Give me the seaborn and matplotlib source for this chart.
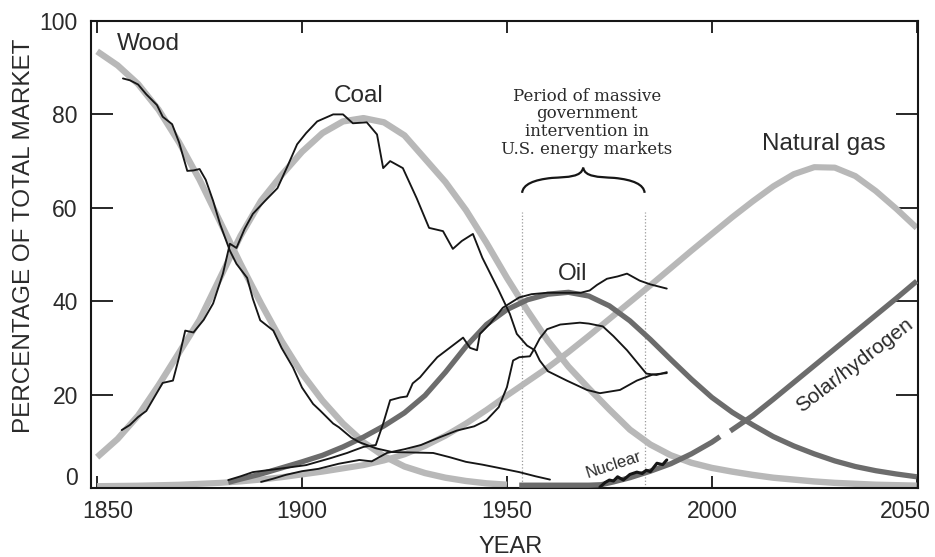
import numpy as np
import pandas as pd
import matplotlib
matplotlib.use("Agg")
import matplotlib.pyplot as plt
from matplotlib.path import Path
from matplotlib.patches import PathPatch
from matplotlib.transforms import ScaledTranslation
import seaborn as sns

# ---------------- data ----------------
model_years = [1850, 1855, 1860, 1865, 1870, 1875, 1880, 1885, 1890, 1895,
               1900, 1905, 1910, 1915, 1920, 1925, 1930, 1935, 1940, 1945,
               1950, 1955, 1960, 1965, 1970, 1975, 1980, 1985, 1990, 1995,
               2000, 2005, 2010, 2015, 2020, 2025, 2030, 2035, 2040, 2045, 2050]

wood_years = [1850, 1855, 1860, 1865, 1870, 1875, 1880, 1885, 1890, 1895, 1900,
              1905, 1910, 1915, 1920, 1925, 1930, 1935, 1940, 1945, 1950]
wood_model = [93.5, 90.5, 86.5, 81.0, 74.0, 66.0, 57.0, 48.0, 39.5, 31.5, 24.5,
              18.7, 13.8, 9.8, 6.8, 4.6, 3.2, 2.2, 1.5, 1.0, 0.7]

coal_model = [6.6, 10.5, 15.5, 22.0, 29.0, 36.0, 45.0, 54.0, 61.5, 67.0,
              72.0, 76.0, 78.5, 79.2, 78.3, 75.5, 70.5, 65.5, 59.5, 52.5,
              45.0, 38.0, 31.5, 26.0, 21.3, 16.8, 12.5, 9.3, 7.0, 5.4,
              4.3, 3.5, 2.8, 2.2, 1.8, 1.4, 1.1, 0.9, 0.7, 0.6, 0.5]

gas_model = [0.4, 0.45, 0.5, 0.6, 0.7, 0.9, 1.1, 1.4, 1.8, 2.3,
             2.9, 3.5, 4.2, 4.9, 5.9, 7.2, 9.0, 11.2, 13.8, 16.7,
             19.8, 22.8, 25.8, 29.1, 32.6, 36.2, 39.8, 43.4, 47.1, 50.8,
             54.4, 58.0, 61.4, 64.6, 67.2, 68.7, 68.6, 66.8, 63.6, 59.8, 55.7]

oil_years = [1882, 1885, 1890, 1895, 1900, 1905, 1910, 1915, 1920, 1925, 1930,
             1935, 1940, 1945, 1950, 1955, 1960, 1965, 1970, 1975, 1980, 1985,
             1990, 1995, 2000, 2005, 2010, 2015, 2020, 2025, 2030, 2035, 2040,
             2045, 2050]
oil_model = [1.2, 1.9, 3.0, 4.3, 5.6, 7.0, 8.8, 10.9, 13.3, 16.1, 19.8,
             24.8, 30.3, 35.0, 38.2, 40.3, 41.5, 41.9, 41.1, 39.0, 35.8, 31.8,
             27.5, 23.3, 19.4, 16.2, 13.5, 11.0, 9.0, 7.3, 5.8, 4.6, 3.7,
             3.0, 2.4]

solar_years = [1953, 1960, 1965, 1970, 1973, 1976, 1980, 1985, 1990, 1995, 2000,
               2002, 2003, 2004.5, 2010, 2015, 2020, 2025, 2030, 2035, 2040,
               2045, 2050]
solar_model = [0.6, 0.6, 0.6, 0.6, 0.7, 1.3, 2.2, 3.6, 5.2, 7.3, 9.8,
               11.0, np.nan, 12.2, 15.5, 19.0, 22.6, 26.2, 29.8, 33.4, 37.0,
               40.6, 44.3]

wood_hist_years = [1856.3, 1858, 1860, 1862, 1864.6, 1866, 1868.3, 1870, 1872,
                   1873.5, 1875, 1876.5, 1878.3, 1880, 1882.4, 1884, 1886.6,
                   1888, 1889.8, 1893, 1895, 1897.8, 1900, 1902.7, 1904.4,
                   1907.6, 1909, 1912, 1914, 1918, 1922, 1927, 1932, 1936,
                   1940, 1944, 1948, 1953, 1957, 1960.5]
wood_hist = [87.7, 87.3, 86.4, 84.3, 82.0, 79.5, 77.9, 74.0, 67.9, 68.0, 68.3,
             66.0, 61.5, 56.5, 50.8, 48.0, 45.0, 40.5, 35.9, 33.7, 30.0, 25.8,
             21.5, 18.0, 16.6, 13.8, 13.0, 10.8, 9.8, 8.5, 7.7, 7.6, 7.5, 6.6,
             5.6, 5.0, 4.3, 3.4, 2.5, 1.8]

coal_hist_years = [1856, 1858, 1860, 1862, 1864, 1866, 1868.5, 1870, 1871.5,
                   1873.5, 1876, 1878.3, 1880.7, 1882.4, 1884, 1886, 1888, 1891,
                   1894, 1896.5, 1898.8, 1901, 1903.7, 1907.6, 1910, 1912.4,
                   1915.8, 1918.3, 1919.8, 1921.5, 1924.6, 1928, 1931, 1934.4,
                   1936.8, 1939, 1941.7, 1944, 1948, 1950.7, 1952.4, 1954.9,
                   1956.8, 1958, 1960, 1964.6, 1969.5, 1972.7, 1977.6, 1981.7,
                   1985.6, 1989]
coal_hist = [12.4, 13.5, 15.2, 16.5, 19.5, 22.5, 23.0, 28.0, 33.7, 33.3, 36.0,
             39.5, 45.9, 52.3, 51.4, 55.5, 58.7, 61.5, 64.2, 69.0, 73.6, 76.0,
             78.5, 80.0, 80.0, 78.1, 78.3, 75.7, 68.5, 70.0, 68.5, 62.0, 55.7,
             55.0, 51.2, 52.9, 54.4, 49.3, 42.3, 37.3, 33.0, 30.5, 29.5, 27.3,
             25.0, 23.0, 21.0, 20.3, 21.0, 23.0, 24.3, 24.6]

oil_hist_years = [1882, 1885, 1888, 1891.5, 1896, 1901, 1907, 1911, 1912.5, 1915,
                  1918, 1919.8, 1921.5, 1924, 1925.6, 1927, 1928.8, 1931, 1933,
                  1936, 1939.3, 1941, 1942.7, 1943.4, 1945.9, 1949, 1953, 1956,
                  1959.8, 1965.4, 1968, 1970.2, 1972, 1974.4, 1977, 1979.3,
                  1982.4, 1985, 1989]
oil_hist = [1.7, 2.5, 3.4, 3.8, 4.3, 4.9, 6.4, 7.5, 8.0, 8.8, 9.2, 13.8, 18.8,
            19.4, 19.6, 22.4, 23.7, 26.0, 28.0, 30.0, 32.2, 30.0, 29.5, 33.0,
            35.2, 38.6, 40.8, 41.5, 41.8, 41.8, 41.8, 42.3, 43.5, 44.8, 45.3,
            45.9, 44.4, 43.6, 42.7]

gas_hist_years = [1890, 1893, 1896, 1900, 1904, 1909, 1914, 1917, 1920.7, 1925,
                  1929, 1933.7, 1937.8, 1942, 1945, 1948, 1950, 1951.5, 1953,
                  1955.6, 1956.8, 1958, 1959.8, 1963, 1967.8, 1970, 1973.4,
                  1976, 1979.3, 1984, 1986.5, 1989]
gas_hist = [1.3, 2.0, 2.8, 3.6, 4.1, 5.2, 6.0, 5.7, 7.5, 8.3, 9.2, 10.9, 12.3,
            13.2, 14.5, 17.3, 21.6, 27.3, 28.0, 28.2, 30.0, 32.0, 34.0, 35.0,
            35.4, 35.2, 34.6, 32.5, 29.5, 24.5, 24.2, 24.8]

nuclear_years = [1972.7, 1974, 1975, 1976, 1977, 1978.4, 1980, 1981.7, 1983,
                 1984, 1985, 1986.6, 1988, 1989]
nuclear_hist = [0.2, 1.2, 1.7, 1.5, 2.4, 1.7, 2.9, 3.4, 3.1, 3.8, 3.5, 5.3,
                5.0, 6.0]

intervention_years = [1953.7, 1983.6]

x_ticks = [1850, 1900, 1950, 2000, 2050]
y_ticks = [0, 20, 40, 60, 80, 100]

# ---------------- styling ----------------
sns.set_theme(style="white")
plt.rcParams["font.family"] = ["Liberation Sans", "DejaVu Sans"]

LIGHT = "#b8b8b8"
DARK = "#6c6c6c"
INK = "#161616"
TXT = "#2a2a2a"

fig = plt.figure(figsize=(9.35, 5.57), dpi=100)
ax = fig.add_axes([0.0973, 0.1239, 0.8845, 0.8384])


def draw(years, vals, **kw):
    years = np.asarray(years, float)
    vals = np.asarray(vals, float)
    seg = np.cumsum(np.isnan(vals))
    df = pd.DataFrame({"x": years, "y": vals, "seg": seg}).dropna()
    sns.lineplot(data=df, x="x", y="y", units="seg", estimator=None,
                 sort=False, ax=ax, legend=False, **kw)


# thick model curves
thick = dict(solid_capstyle="butt", solid_joinstyle="round")
draw(wood_years, wood_model, color=LIGHT, lw=4.6, zorder=2, **thick)
draw(model_years, coal_model, color=LIGHT, lw=4.6, zorder=2, **thick)
draw(model_years, gas_model, color=LIGHT, lw=4.4, zorder=2, **thick)
draw(oil_years, oil_model, color=DARK, lw=3.8, zorder=3, **thick)
draw(solar_years, solar_model, color=DARK, lw=3.8, zorder=3, **thick)

# historical thin lines
thin = dict(color=INK, lw=1.35, zorder=5, solid_joinstyle="round")
draw(wood_hist_years, wood_hist, **thin)
draw(coal_hist_years, coal_hist, **thin)
draw(oil_hist_years, oil_hist, **thin)
draw(gas_hist_years, gas_hist, **thin)
draw(nuclear_years, nuclear_hist, color=INK, lw=2.2, zorder=5)

# intervention period
for yr in intervention_years:
    ax.plot([yr, yr], [0, 59], color="#9a9a9a", lw=0.9, ls=":", zorder=1)

verts = [(1953.7, 63.2),
         (1953.9, 65.0), (1956.5, 66.0), (1961.0, 66.4),
         (1965.0, 66.6), (1968.2, 66.6), (1968.6, 68.6),
         (1969.0, 66.6), (1972.2, 66.6), (1976.2, 66.4),
         (1980.8, 66.0), (1983.4, 65.0), (1983.6, 63.2)]
codes = [Path.MOVETO] + [Path.CURVE4] * 12
ax.add_patch(PathPatch(Path(verts, codes), fc="none", ec=INK, lw=1.6,
                       zorder=6))

ax.text(1969.5, 78.2,
        "Period of massive\ngovernment\nintervention in\nU.S. energy markets",
        ha="center", va="center", fontsize=12, family="DejaVu Serif",
        color=TXT, linespacing=1.05)

# curve labels
lab = dict(color=TXT, fontsize=17.5, ha="center", va="center")
ax.text(1862.4, 95.0, "Wood", **lab)
ax.text(1913.7, 84.0, "Coal", **lab)
ax.text(1966.1, 45.9, "Oil", **lab)
ax.text(2027.3, 73.6, "Natural gas", **lab)
ax.text(2034.9, 26.3, "Solar/hydrogen", color=TXT, fontsize=15, ha="center",
        va="center", rotation=37.5, rotation_mode="anchor")
ax.text(1976.0, 4.9, "Nuclear", color=TXT, fontsize=12, ha="center",
        va="center", rotation=18, rotation_mode="anchor")

# axes
ax.set_xlim(1848.5, 2050.3)
ax.set_ylim(0, 100)
ax.set_xticks(x_ticks)
ax.set_yticks(y_ticks)
ax.set_xlabel("YEAR", fontsize=17, color=TXT)
ax.set_ylabel("PERCENTAGE OF TOTAL MARKET", fontsize=17.5, color=TXT)
ax.xaxis.set_label_coords(0.507, -0.103)
ax.yaxis.set_label_coords(-0.068, 0.54)
ax.tick_params(axis="y", direction="in", length=16, width=1.3, left=True,
               right=True, labelsize=16.5, pad=9.5, colors=INK,
               labelcolor=TXT)
ax.tick_params(axis="x", direction="in", length=8.5, width=1.3, top=True,
               bottom=True, labelsize=16.5, pad=8.5, colors=INK,
               labelcolor=TXT)
for sp in ax.spines.values():
    sp.set_visible(True)
    sp.set_color(INK)
    sp.set_linewidth(1.5)
ax.grid(False)
ax.set_facecolor("white")
fig.patch.set_facecolor("white")

# nudge edge tick labels as in the reference
fig.canvas.draw()


def nudge(label, dx_px, dy_px):
    label.set_transform(label.get_transform() +
                        ScaledTranslation(dx_px / 100, dy_px / 100,
                                          fig.dpi_scale_trans))


xt = ax.xaxis.get_major_ticks()
nudge(xt[0].label1, 11, 0)
nudge(xt[-1].label1, -11, 0)
yt = ax.yaxis.get_major_ticks()
nudge(yt[0].label1, 0, 12)

fig.savefig("out.png", dpi=100, facecolor="white")
